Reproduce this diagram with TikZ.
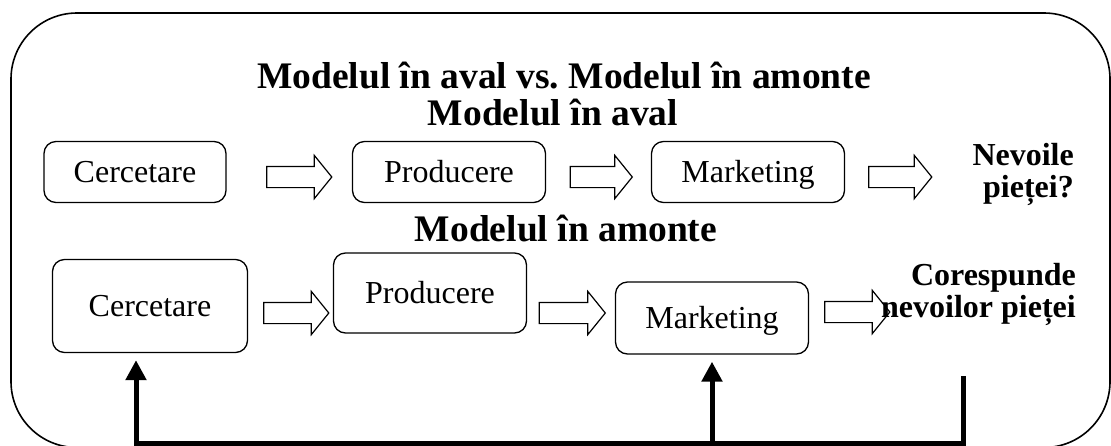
\documentclass[tikz,border=0pt]{standalone}
\usepackage{fontspec}
\setmainfont{Liberation Serif}
\frenchspacing
\usetikzlibrary{shapes.arrows,arrows.meta,calc}
\begin{document}
\begin{tikzpicture}[x=1pt,y=-1pt,
  box/.style={draw,line width=1.3pt,rounded corners=12pt,inner sep=0pt,
    text height=21pt,text depth=0pt,font=\fontsize{32}{38}\selectfont},
  head/.style={font=\bfseries\fontsize{37.5}{44}\selectfont,inner sep=0pt,anchor=base},
  note/.style={font=\bfseries\fontsize{32}{32}\selectfont,inner sep=0pt,
    anchor=base east},
  hollow/.style={draw,line width=1.2pt,single arrow,single arrow head extend=11pt,
    single arrow tip angle=102,inner xsep=0pt,inner ysep=10pt,text height=0pt,
    text depth=0pt,minimum width=42pt},
  feed/.style={line width=5pt},
  feedtip/.style={-{Triangle[width=20pt,length=20pt]},shorten >=7pt}]
\useasboundingbox (0,0) rectangle (1111,445);
\begin{scope}
  \clip (0,0) rectangle (1111,445);
  \draw[line width=1.6pt,rounded corners=66pt] (11,13) rectangle (1110,447.5);
\end{scope}

% headings
\node[head] (t1) at (564,88) {Modelul în aval vs. Modelul în amonte};
\node[head] (t2) at (553,125) {Modelul în aval};
\node[head] (t3) at (566,241) {Modelul în amonte};

% downstream row
\node[box,minimum width=182pt,minimum height=61pt] (c1) at (135,172) {Cercetare};
\node[box,minimum width=193pt,minimum height=61pt] (p1) at (449,172) {Producere};
\node[box,minimum width=193pt,minimum height=61pt] (m1) at (748,172) {Marketing};
\node[hollow,minimum height=65pt] (a1) at (295,177) {};
\node[hollow,minimum height=62pt] (a2) at (597,177) {};
\node[hollow,minimum height=63pt] (a3) at (896,177) {};
\node[note] (n1) at (1074,165) {Nevoile};
\node[note] (n1b) at (1074,197) {pieței?};

% upstream row
\node[box,minimum width=195pt,minimum height=93pt] (c2) at (150,306) {Cercetare};
\node[box,minimum width=193pt,minimum height=80pt] (p2) at (430,293) {Producere};
\node[box,minimum width=193pt,minimum height=72pt] (m2) at (712,318) {Marketing};
\node[hollow,minimum height=65pt] (b1) at (292,313) {};
\node[hollow,minimum height=66pt] (b2) at (568,313) {};
\node[hollow,minimum height=65pt] (b3) at (853,312) {};
\node[note] (n2) at (1076,285) {Corespunde};
\node[note] (n2b) at (1076,317) {nevoilor pieței};

% feedback lines
\coordinate (fr) at (963,376);
\coordinate (fb) at (963,443);
\draw[feed,feedtip] (fr) -- (fb) -| ([xshift=-14pt]c2.south);
\draw[feed,feedtip] (fb -| m2.south) -- (m2.south);
\end{tikzpicture}
\end{document}
